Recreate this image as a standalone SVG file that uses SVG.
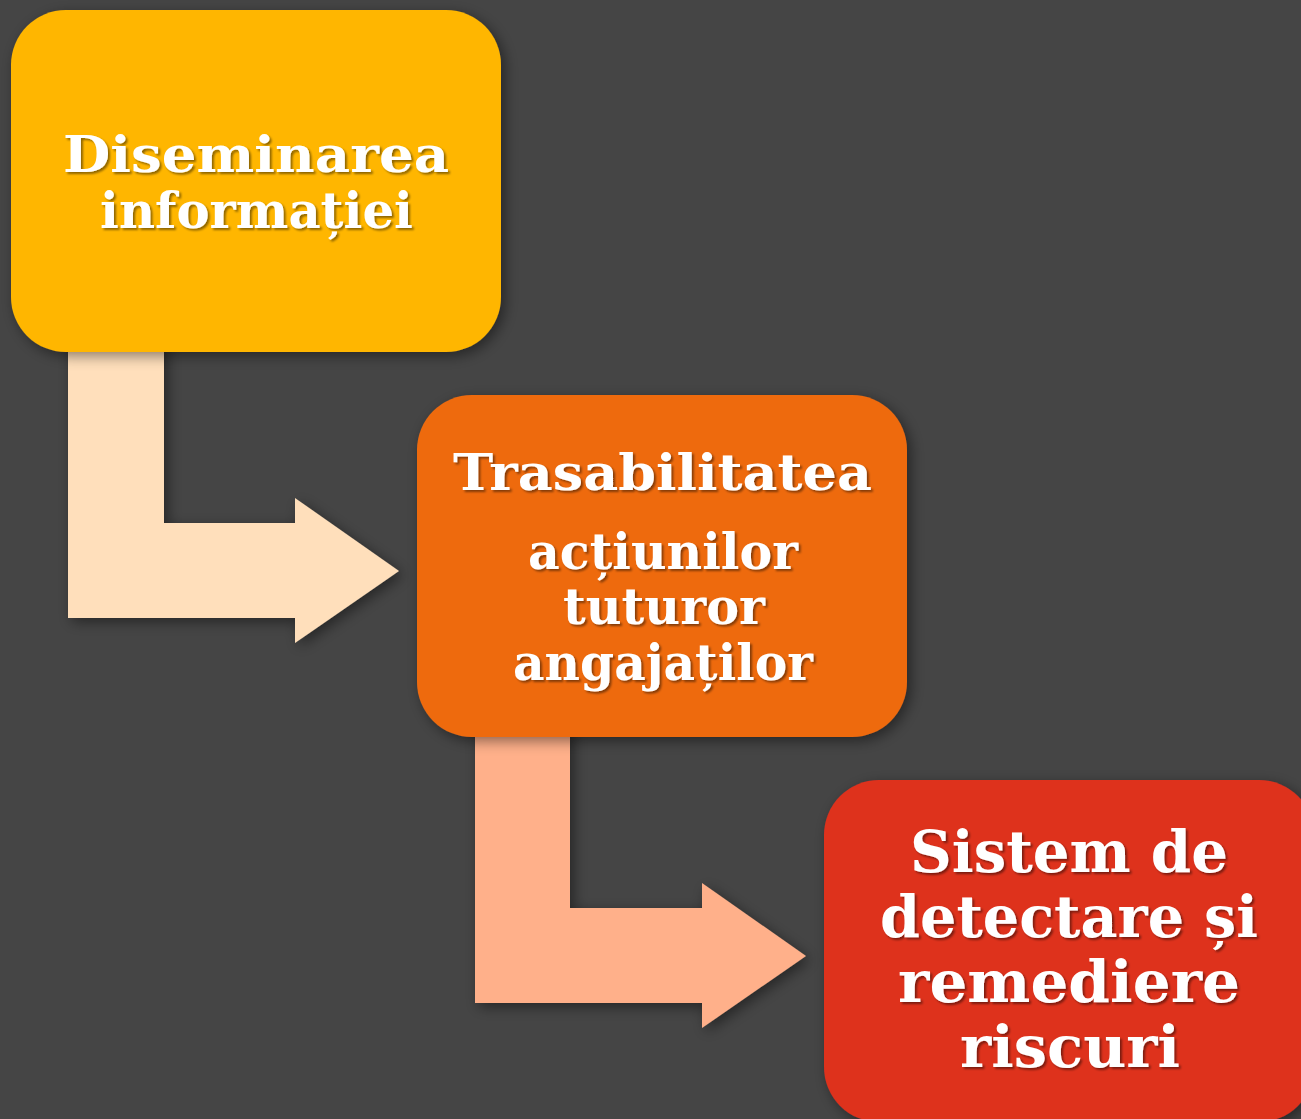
<svg xmlns="http://www.w3.org/2000/svg" width="1301" height="1119" viewBox="0 0 1301 1119">
<defs>
<filter id="sh" x="-10%" y="-10%" width="130%" height="130%">
<feDropShadow dx="4" dy="4" stdDeviation="7" flood-color="#000" flood-opacity="0.45"/>
</filter>
<filter id="tsh" x="-5%" y="-20%" width="115%" height="150%">
<feDropShadow dx="2" dy="2" stdDeviation="1.2" flood-color="#000" flood-opacity="0.45"/>
</filter>
</defs>
<style>
.t{font-family:"DejaVu Serif","Liberation Serif",serif;font-weight:bold;fill:#ffffff;}
.s1{font-size:50px;}
.s3{font-size:57px;}
</style>
<rect width="1301" height="1119" fill="#454545"/>
<g id="connectors" filter="url(#sh)">
<path d="M68,340 H164 V523 H295 V498 L399,571 L295,643 V618 H68 Z" fill="#FFDFBB"/>
<path d="M475,725 H570 V908 H702 V883 L806,956 L702,1028 V1003 H475 Z" fill="#FFB08A"/>
</g>
<g id="node1">
<rect x="11" y="10" width="490" height="342" rx="55" fill="#FFB600" filter="url(#sh)"/>
<g filter="url(#tsh)">
<text class="t s1" x="63" y="172" textLength="386" lengthAdjust="spacingAndGlyphs">Diseminarea</text>
<text class="t s1" x="100" y="228" textLength="313" lengthAdjust="spacingAndGlyphs">informației</text>
</g>
</g>
<g id="node2">
<rect x="417" y="395" width="490" height="342" rx="55" fill="#EE6A10" filter="url(#sh)"/>
<g filter="url(#tsh)">
<text class="t s1" x="453" y="490" textLength="419" lengthAdjust="spacingAndGlyphs">Trasabilitatea</text>
<text class="t s1" x="528" y="569" textLength="270" lengthAdjust="spacingAndGlyphs">acțiunilor</text>
<text class="t s1" x="563" y="624" textLength="202" lengthAdjust="spacingAndGlyphs">tuturor</text>
<text class="t s1" x="513" y="680" textLength="300" lengthAdjust="spacingAndGlyphs">angajaților</text>
</g>
</g>
<g id="node3">
<rect x="824" y="780" width="490" height="342" rx="55" fill="#DE301E" filter="url(#sh)"/>
<g filter="url(#tsh)">
<text class="t s3" x="910" y="872" textLength="318" lengthAdjust="spacingAndGlyphs">Sistem de</text>
<text class="t s3" x="880" y="937" textLength="378" lengthAdjust="spacingAndGlyphs">detectare și</text>
<text class="t s3" x="898" y="1002" textLength="342" lengthAdjust="spacingAndGlyphs">remediere</text>
<text class="t s3" x="960" y="1067" textLength="220" lengthAdjust="spacingAndGlyphs">riscuri</text>
</g>
</g>
</svg>
